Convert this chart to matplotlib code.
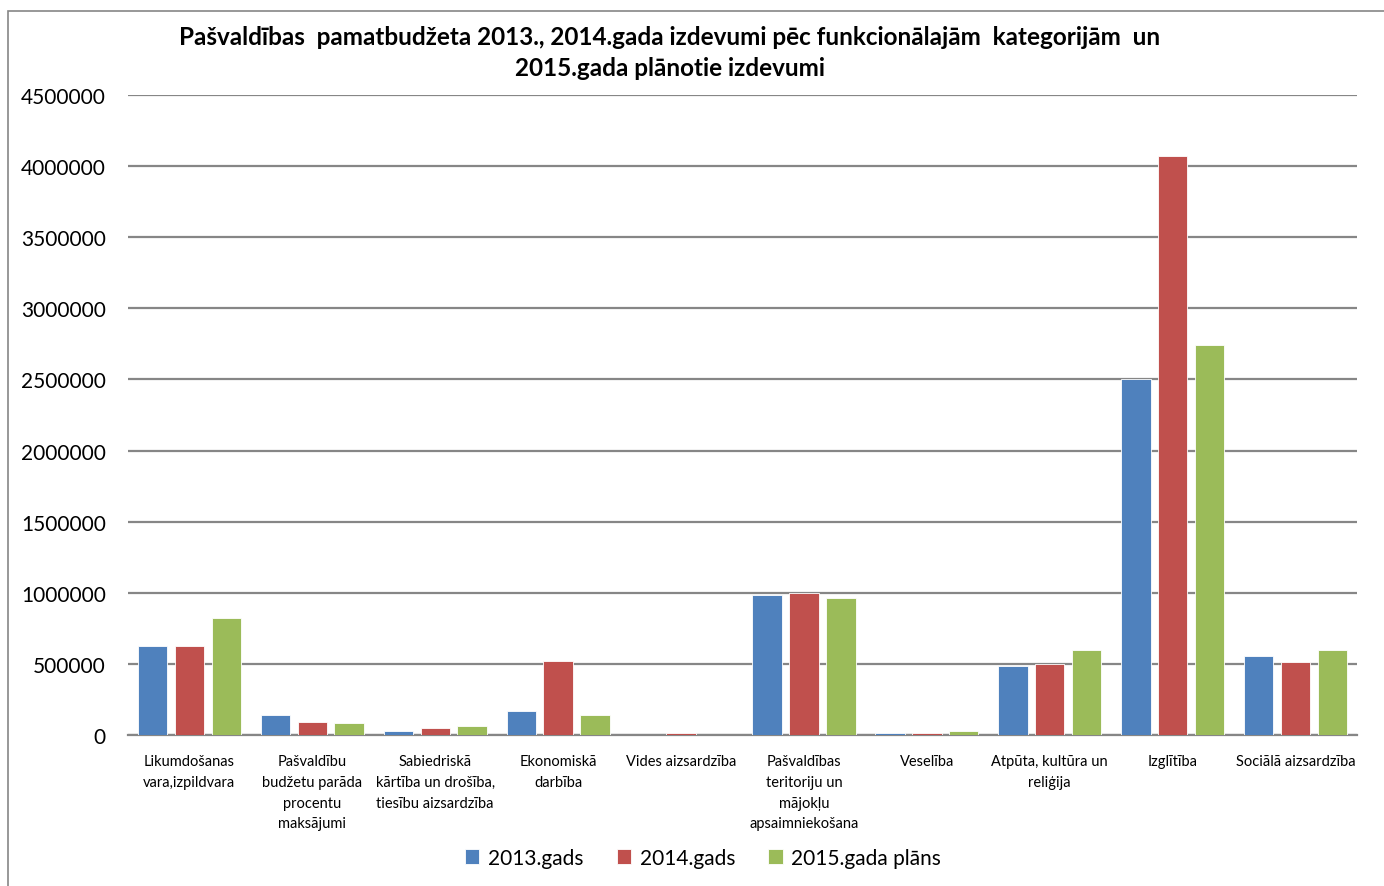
import matplotlib.pyplot as plt
import numpy as np

plt.rcParams['font.family'] = ['Lato', 'DejaVu Sans']

# kategorijas
categories = ['Likumdošanas\nvara,izpildvara',
              'Pašvaldību\nbudžetu parāda\nprocentu\nmaksājumi',
              'Sabiedriskā\nkārtība un drošība,\ntiesību aizsardzība',
              'Ekonomiskā\ndarbība',
              'Vides aizsardzība',
              'Pašvaldības\nteritoriju un\nmājokļu\napsaimniekošana',
              'Veselība',
              'Atpūta, kultūra un\nreliģija',
              'Izglītība',
              'Sociālā aizsardzība']

y2013 = [628000, 144000, 30000, 170000, 0, 981000, 16000, 482000, 2505000, 553000]
y2014 = [628000, 88000, 49000, 518000, 16000, 995000, 16000, 499000, 4068000, 516000]
y2015 = [825000, 87000, 61000, 144000, 0, 965000, 30000, 598000, 2744000, 596000]

series = [('2013.gads', y2013, '#4F81BD'),
          ('2014.gads', y2014, '#C0504D'),
          ('2015.gada plāns', y2015, '#9BBB59')]

fig = plt.figure(figsize=(13.84, 8.87), dpi=100)
ax = fig.add_axes([128 / 1384, 1 - 736 / 887, (1357 - 128) / 1384, 640 / 887])

x = np.arange(len(categories))
offsets = [-0.3, 0, 0.3]
for (name, vals, col), off in zip(series, offsets):
    ax.bar(x + off, vals, width=0.24, color=col, label=name,
           edgecolor='white', linewidth=0.6, zorder=3)

ax.set_xlim(-0.5, len(categories) - 0.5)
ax.set_ylim(0, 4500000)
ax.set_yticks(np.arange(0, 4500001, 500000))
ax.set_yticklabels([str(v) for v in range(0, 4500001, 500000)], fontsize=15)
ax.grid(axis='y', color='#868686', linewidth=1.6, zorder=0)
ax.set_xticks(x)
ax.set_xticklabels(categories, fontsize=10.5, va='top', linespacing=1.6)
ax.tick_params(axis='both', length=0)
ax.tick_params(axis='x', pad=14)
ax.tick_params(axis='y', pad=16)
for s in ['top', 'right', 'left']:
    ax.spines[s].set_visible(False)
ax.spines['bottom'].set_color('#868686')
ax.spines['bottom'].set_linewidth(1.6)

fig.text(670 / 1384, 1 - 53 / 887,
         'Pašvaldības  pamatbudžeta 2013., 2014.gada izdevumi pēc funkcionālajām  kategorijām  un\n2015.gada plānotie izdevumi',
         ha='center', va='center', fontsize=17.5, fontweight='bold', linespacing=1.4)

fig.legend(loc='center', bbox_to_anchor=(703 / 1384, 1 - 859 / 887), ncol=3,
           frameon=False, fontsize=15, handlelength=0.7, handleheight=0.7,
           columnspacing=1.6, handletextpad=0.4)

# rāmis ap diagrammu
fig.patches.append(plt.Rectangle((8 / 1384, -0.01), 1.2, 1 - 12 / 887 + 0.01,
                                 transform=fig.transFigure, fill=False,
                                 edgecolor='#868686', linewidth=1.2))

fig.savefig('out.png', dpi=100)
